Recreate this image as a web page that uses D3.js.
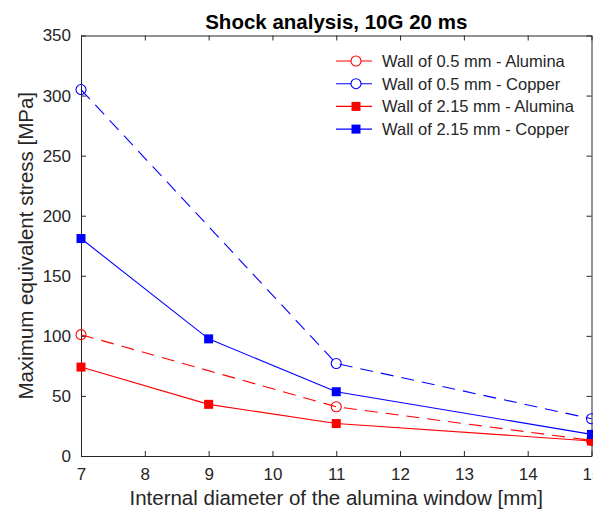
<!DOCTYPE html>
<html>
<head>
<meta charset="utf-8">
<script src="https://cdn.jsdelivr.net/npm/d3@7"></script>
<style>
  body { margin: 0; background: #fff; }
  text { font-family: "Liberation Sans", Arial, sans-serif; }
</style>
</head>
<body>
<script>
// Chart data.
var diameters = [7, 9, 11, 15];
var xTicks = [7, 8, 9, 10, 11, 12, 13, 14, 15];
var yTicks = [0, 50, 100, 150, 200, 250, 300, 350];

var thinAlumina = [[7, 101], [11, 41], [15, 13]];
var thinCopper = [[7, 305], [11, 77], [15, 31]];
var thickAlumina = [[7, 74], [9, 43], [11, 27], [15, 12.5]];
var thickCopper = [[7, 181], [9, 97.5], [11, 53.5], [15, 18]];

var seriesNames = [
    "Wall of 0.5 mm - Alumina",
    "Wall of 0.5 mm - Copper",
    "Wall of 2.15 mm - Alumina",
    "Wall of 2.15 mm - Copper"
];

var series = [
    { name: seriesNames[0], values: thinAlumina, color: "#ff0000", dashed: true, marker: "circle" },
    { name: seriesNames[1], values: thinCopper, color: "#0000ff", dashed: true, marker: "circle" },
    { name: seriesNames[2], values: thickAlumina, color: "#ff0000", dashed: false, marker: "square" },
    { name: seriesNames[3], values: thickCopper, color: "#0000ff", dashed: false, marker: "square" }
];

var width = 593, height = 517;
var margin = { left: 81, right: 1.5, top: 35.5, bottom: 61 };

var svg = d3.select("body").append("svg")
    .attr("width", width)
    .attr("height", height);

var x = d3.scaleLinear().domain([7, 15]).range([margin.left, width - margin.right]);
var y = d3.scaleLinear().domain([0, 350]).range([height - margin.bottom, margin.top]);

var axisColor = "#262626";

// Axes with inward ticks, MATLAB style.
var xAxis = svg.append("g")
    .attr("transform", "translate(0," + y(0) + ")")
    .call(d3.axisBottom(x).tickValues(xTicks).tickSizeInner(-5).tickSizeOuter(0).tickPadding(12));
var xAxisTop = svg.append("g")
    .attr("transform", "translate(0," + y(350) + ")")
    .call(d3.axisTop(x).tickValues(xTicks).tickSizeInner(-5).tickSizeOuter(0).tickFormat(""));
var yAxis = svg.append("g")
    .attr("transform", "translate(" + x(7) + ",0)")
    .call(d3.axisLeft(y).tickValues(yTicks).tickSizeInner(-5).tickSizeOuter(0).tickPadding(10));
var yAxisRight = svg.append("g")
    .attr("transform", "translate(" + x(15) + ",0)")
    .call(d3.axisRight(y).tickValues(yTicks).tickSizeInner(-5).tickSizeOuter(0).tickFormat(""));

svg.selectAll(".domain, .tick line").attr("stroke", axisColor).attr("stroke-width", 1);
xAxis.selectAll("text").attr("fill", axisColor).style("font-size", "17px");
yAxis.selectAll("text").attr("fill", axisColor).style("font-size", "17px");

// Lines and markers.
var line = d3.line().x(d => x(d[0])).y(d => y(d[1]));

var plot = svg.append("g");

series.forEach(s => {
    plot.append("path")
        .datum(s.values)
        .attr("d", line)
        .attr("fill", "none")
        .attr("stroke", s.color)
        .attr("stroke-width", 1.1)
        .attr("stroke-dasharray", s.dashed ? "13,8" : null);

    if (s.marker === "circle") {
        plot.selectAll(null)
            .data(s.values)
            .join("circle")
            .attr("cx", d => x(d[0]))
            .attr("cy", d => y(d[1]))
            .attr("r", 5)
            .attr("fill", "none")
            .attr("stroke", s.color)
            .attr("stroke-width", 1.1);
    } else {
        plot.selectAll(null)
            .data(s.values)
            .join("rect")
            .attr("x", d => x(d[0]) - 4.5)
            .attr("y", d => y(d[1]) - 4.5)
            .attr("width", 9)
            .attr("height", 9)
            .attr("fill", s.color);
    }
});

// Legend (no box, as in the reference).
var legend = svg.append("g").attr("transform", "translate(336,61)");
series.forEach((s, i) => {
    var row = legend.append("g").attr("transform", "translate(0," + (i * 22.7) + ")");
    row.append("line")
        .attr("x1", 0).attr("x2", 36)
        .attr("stroke", s.color)
        .attr("stroke-width", 1.1);
    if (s.marker === "circle") {
        row.append("circle").attr("cx", 20).attr("r", 5)
            .attr("fill", "#fff").attr("stroke", s.color).attr("stroke-width", 1.1);
    } else {
        row.append("rect").attr("x", 15.5).attr("y", -4.5).attr("width", 9).attr("height", 9)
            .attr("fill", s.color);
    }
    row.append("text")
        .attr("x", 46)
        .attr("dy", "0.36em")
        .attr("fill", axisColor)
        .style("font-size", "16.5px")
        .text(s.name);
});

// Title and axis labels.
svg.append("text")
    .attr("x", (x(7) + x(15)) / 2)
    .attr("y", 28.5)
    .attr("text-anchor", "middle")
    .attr("font-weight", "bold")
    .attr("fill", "#000")
    .style("font-size", "20.5px")
    .text("Shock analysis, 10G 20 ms");

svg.append("text")
    .attr("x", (x(7) + x(15)) / 2)
    .attr("y", 505)
    .attr("text-anchor", "middle")
    .attr("fill", axisColor)
    .style("font-size", "20.5px")
    .text("Internal diameter of the alumina window [mm]");

svg.append("text")
    .attr("transform", "translate(33," + ((y(0) + y(350)) / 2) + ") rotate(-90)")
    .attr("text-anchor", "middle")
    .attr("fill", axisColor)
    .style("font-size", "20.5px")
    .text("Maximum equivalent stress [MPa]");
</script>
</body>
</html>
